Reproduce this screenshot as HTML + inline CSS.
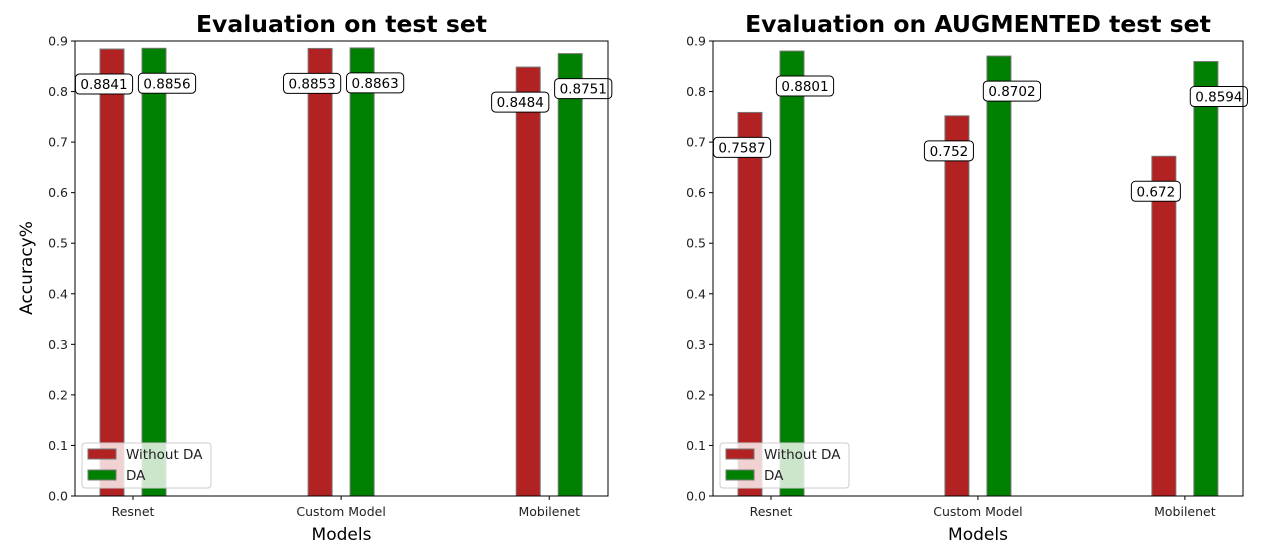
<!DOCTYPE html>
<html><head><meta charset="utf-8"><style>
body{margin:0;background:#fff;width:1263px;height:546px;overflow:hidden;font-family:"DejaVu Sans","Liberation Sans",sans-serif}
</style></head><body>
<svg id="svg" width="1263" height="546" xmlns="http://www.w3.org/2000/svg"></svg>
<script>
const categories=["Resnet","Custom Model","Mobilenet"];
const testWithout=[0.8841,0.8853,0.8484];
const testDA=[0.8856,0.8863,0.8751];
const augWithout=[0.7587,0.752,0.672];
const augDA=[0.8801,0.8702,0.8594];
const yTicks=["0.0","0.1","0.2","0.3","0.4","0.5","0.6","0.7","0.8","0.9"];
const titles=["Evaluation on test set","Evaluation on AUGMENTED test set"];
const NS="http://www.w3.org/2000/svg";
const svg=document.getElementById('svg');
function mk(t,a,p){const e=document.createElementNS(NS,t);for(const k in a)e.setAttribute(k,a[k]);(p||svg).appendChild(e);return e;}
function panel(px,w,title,without,da,showY,pname){
  const g=mk('g',{});
  
  
  const top=41,bot=496,ymax=0.9;
  const y=v=>bot-v/ymax*(bot-top);
  const xc=i=>px+58+i*208.5*(w/534);
  const t=mk('text',{x:px+w/2,y:32,'text-anchor':'middle','font-size':'23.5','font-weight':'bold',fill:'#000'},g);t.textContent=title;
  
  yTicks.forEach(s=>{const v=parseFloat(s);const yy=y(v);
    mk('line',{x1:px-4,x2:px,y1:yy,y2:yy,stroke:'#000','stroke-width':1},g);
    const tt=mk('text',{x:px-7,y:yy+4.5,'text-anchor':'end','font-size':'12.5',fill:'#222'},g);tt.textContent=s;
    });
  categories.forEach((c,i)=>{
    const cx=xc(i);
    const bw=24;
    [[without[i],'#b22222',cx-21,-8],[da[i],'#008000',cx+21,13]].forEach(([v,col,bx,off],j)=>{
      const r=mk('rect',{x:bx-bw/2,y:y(v),width:bw,height:bot-y(v),fill:col,stroke:'#777','stroke-width':1},g);
      
      const lab=String(v);const lw=lab.length*8.2+8;const ly=y(v)+35;const lx=bx+off;
      const b=mk('rect',{x:lx-lw/2,y:ly-10,width:lw,height:20,rx:4,fill:'#fff',stroke:'#000','stroke-width':1},g);
      
      const lt=mk('text',{x:lx,y:ly+5,'text-anchor':'middle','font-size':'13.5',fill:'#000'},g);lt.textContent=lab;
      
    });
    mk('line',{x1:cx,x2:cx,y1:bot,y2:bot+4,stroke:'#000'},g);
    const xt=mk('text',{x:cx,y:bot+20,'text-anchor':'middle','font-size':'12.5',fill:'#222'},g);xt.textContent=c;
    
  });
  const lg=mk('g',{},g);
  mk('rect',{x:px+7,y:443,width:129,height:45,rx:3,fill:'rgba(255,255,255,0.8)',stroke:'#ccc'},lg);
  [['Without DA','#b22222',454],['DA','#008000',475]].forEach(([n,c,yy])=>{
    mk('rect',{x:px+13,y:yy-5,width:28,height:10,fill:c,stroke:'#777'},lg);
    const e=mk('text',{x:px+51,y:yy+5,'font-size':'13.5',fill:'#222'},lg);e.textContent=n;
    
  });
  mk('rect',{x:px,y:top,width:w,height:bot-top,fill:'none',stroke:'#000','stroke-width':1},g);
  const xl=mk('text',{x:px+w/2,y:540,'text-anchor':'middle','font-size':'17',fill:'#000'},g);xl.textContent='Models';
  
  if(showY){const yl=mk('text',{x:0,y:0,transform:'translate(32,268) rotate(-90)','text-anchor':'middle','font-size':'17',fill:'#000'},g);yl.textContent='Accuracy%';
    }
}
panel(75,533,titles[0],testWithout,testDA,true,'test-set-panel');
panel(713,530,titles[1],augWithout,augDA,false,'augmented-test-set-panel');
</script>
</body></html>
